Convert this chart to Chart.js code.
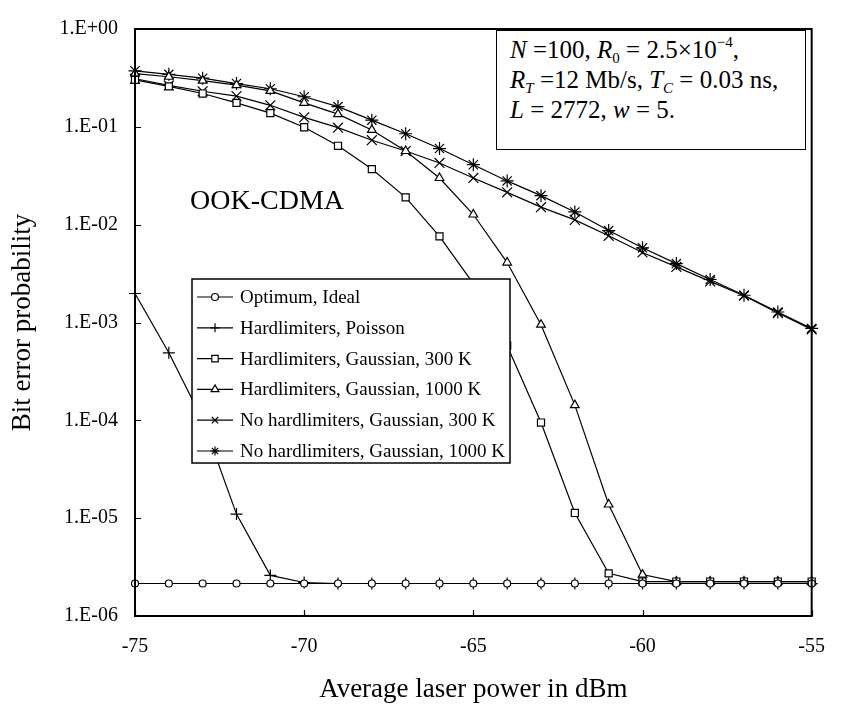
<!DOCTYPE html>
<html><head><meta charset="utf-8">
<script src="https://cdn.jsdelivr.net/npm/chart.js@4.4.0/dist/chart.umd.min.js"></script>
<style>
html,body{margin:0;padding:0;background:#fff;}
#wrap{position:relative;width:844px;height:707px;overflow:hidden;}
canvas{position:absolute;left:0;top:0;}
.note{position:absolute;font-family:"Liberation Serif","Times New Roman",serif;color:#000;}
#params{left:496px;top:30px;width:310px;height:120px;border:1.5px solid #000;box-sizing:border-box;padding:4px 0 0 13px;font-size:25px;line-height:30px;white-space:nowrap;background:#fff;}
#params i{font-style:italic;}
#params sub{font-size:15px;vertical-align:-5px;line-height:0;}
#params sup{font-size:15px;vertical-align:11px;line-height:0;}
#ook{left:190px;top:184px;font-size:28px;line-height:32px;white-space:nowrap;}
</style></head>
<body>
<div id="wrap">
<canvas id="c" width="844" height="707"></canvas>
<div class="note" id="params">
<div><i>N</i> =100, <i>R</i><sub>0</sub> = 2.5×10<sup>−4</sup>,</div>
<div><i>R<sub>T</sub></i> =12 Mb/s, <i>T<sub>C</sub></i> = 0.03 ns,</div>
<div><i>L</i> = 2772, <i>w</i> = 5.</div>
</div>
<div class="note" id="ook">OOK-CDMA</div>
</div>
<script>
// ---- data ----
const powerDbm = [-75,-74,-73,-72,-71,-70,-69,-68,-67,-66,-65,-64,-63,-62,-61,-60,-59,-58,-57,-56,-55];
const optimumIdeal = [2.15e-6,2.15e-6,2.15e-6,2.15e-6,2.15e-6,2.15e-6,2.15e-6,2.15e-6,2.15e-6,2.15e-6,2.15e-6,2.15e-6,2.15e-6,2.15e-6,2.15e-6,2.15e-6,2.15e-6,2.15e-6,2.15e-6,2.15e-6,2.15e-6];
const hlPoisson = [1.98e-3,4.9e-4,1.0e-4,1.1e-5,2.6e-6,2.2e-6,2.15e-6,2.15e-6,2.15e-6,2.15e-6,2.15e-6,2.15e-6,2.15e-6,2.15e-6,2.15e-6,2.15e-6,2.15e-6,2.15e-6,2.15e-6,2.15e-6,2.15e-6];
const hlGauss300 = [0.302,0.259,0.219,0.176,0.138,0.099,0.064,0.037,0.019,0.0076,0.0025,5.8e-4,9.5e-5,1.13e-5,2.73e-6,2.25e-6,2.25e-6,2.25e-6,2.25e-6,2.25e-6,2.25e-6];
const hlGauss1000 = [0.35,0.325,0.297,0.267,0.233,0.176,0.135,0.093,0.0566,0.030,0.0127,0.0041,9.5e-4,1.43e-4,1.38e-5,2.65e-6,2.25e-6,2.25e-6,2.25e-6,2.25e-6,2.25e-6];
const noHlGauss300 = [0.31,0.265,0.231,0.206,0.166,0.125,0.098,0.073,0.0566,0.0427,0.030,0.0214,0.0151,0.0112,0.0077,0.0052,0.0037,0.00263,0.00188,0.00125,8.5e-4];
const noHlGauss1000 = [0.374,0.344,0.314,0.277,0.245,0.203,0.161,0.117,0.085,0.060,0.041,0.028,0.0198,0.0135,0.0087,0.0058,0.0040,0.00275,0.0019,0.00128,8.7e-4];
const seriesNames = ['Optimum, Ideal','Hardlimiters, Poisson','Hardlimiters, Gaussian, 300 K','Hardlimiters, Gaussian, 1000 K','No hardlimiters, Gaussian, 300 K','No hardlimiters, Gaussian, 1000 K'];
const xTickValues = [-75,-70,-65,-60,-55];
const yTickValues = [1e-6,1e-5,1e-4,1e-3,1e-2,1e-1,1];
const yTickLabels = ['1.E-06','1.E-05','1.E-04','1.E-03','1.E-02','1.E-01','1.E+00'];

const FONT = '"Liberation Serif","Times New Roman",serif';
const seriesValues = [optimumIdeal,hlPoisson,hlGauss300,hlGauss1000,noHlGauss300,noHlGauss1000];
const styles = [
  {pointStyle:'circle', pointRadius:3.5},
  {pointStyle:'cross', pointRadius:6},
  {pointStyle:'rect', pointRadius:5},
  {pointStyle:'triangle', pointRadius:5},
  {pointStyle:'crossRot', pointRadius:7},
  {pointStyle:'star', pointRadius:6.5}
];
const datasets = seriesValues.map((vals,i)=>({
  label: seriesNames[i],
  data: powerDbm.map((x,j)=>({x:x,y:vals[j]})),
  borderColor:'#000', borderWidth:1.2,
  pointStyle: styles[i].pointStyle, pointRadius: styles[i].pointRadius,
  pointBorderColor:'#000', pointBackgroundColor:'#fff', pointBorderWidth:1.2,
  fill:false, tension:0, clip:false
}));

const framePlugin = {
  id:'frame',
  afterDraw(chart){
    const {ctx, chartArea:a, scales:{x,y}} = chart;
    ctx.save();
    ctx.strokeStyle='#000'; ctx.lineWidth=2;
    ctx.strokeRect(a.left, a.top, a.right-a.left, a.bottom-a.top);
    ctx.lineWidth=1.2;
    ctx.beginPath();
    yTickValues.forEach(v=>{ const py=Math.round(y.getPixelForValue(v))+0.5; ctx.moveTo(a.left,py); ctx.lineTo(a.left+6,py); });
    xTickValues.forEach(v=>{ const px=Math.round(x.getPixelForValue(v))+0.5; ctx.moveTo(px,a.bottom); ctx.lineTo(px,a.bottom-6); });
    ctx.stroke();
    // legend
    const L=192, T=279, W=318, H=184;
    ctx.fillStyle='#fff'; ctx.fillRect(L,T,W,H);
    ctx.lineWidth=1.5; ctx.strokeStyle='#000'; ctx.strokeRect(L,T,W,H);
    ctx.font='19px '+FONT; ctx.textBaseline='middle'; ctx.textAlign='left';
    chart.data.datasets.forEach((ds,i)=>{
      const ry = T+18+i*30.8;
      ctx.strokeStyle='#000'; ctx.lineWidth=1.2;
      ctx.beginPath(); ctx.moveTo(L+5,ry); ctx.lineTo(L+41,ry); ctx.stroke();
      ctx.fillStyle='#fff';
      Chart.helpers.drawPoint(ctx,{pointStyle:ds.pointStyle,radius:Math.min(ds.pointRadius,4.5),rotation:0,borderWidth:1.2},L+23,ry);
      ctx.fillStyle='#000';
      ctx.fillText(ds.label, L+48, ry+1);
    });
    ctx.restore();
  }
};

new Chart(document.getElementById('c'),{
  type:'line',
  data:{datasets},
  plugins:[framePlugin],
  options:{
    responsive:false, animation:false, devicePixelRatio:1,
    layout:{padding:{left:0,right:16,top:18,bottom:0}},
    plugins:{legend:{display:false}, tooltip:{enabled:false}},
    scales:{
      x:{type:'linear', min:-75, max:-55,
        afterBuildTicks:s=>{ s.ticks = xTickValues.map(v=>({value:v})); },
        ticks:{font:{family:FONT,size:20}, color:'#000', padding:19, maxRotation:0},
        grid:{display:false, drawTicks:false}, border:{display:false},
        title:{display:true, text:'Average laser power in dBm', font:{family:FONT,size:27}, color:'#000', padding:{top:0,bottom:1}},
        afterFit:s=>{ s.height = 91; }
      },
      y:{type:'logarithmic', min:1e-6, max:1,
        afterBuildTicks:s=>{ s.ticks = yTickValues.map(v=>({value:v})); },
        ticks:{font:{family:FONT,size:20}, color:'#000', padding:17, callback:(v,i)=>yTickLabels[i]},
        grid:{display:false, drawTicks:false}, border:{display:false},
        title:{display:true, text:'Bit error probability', font:{family:FONT,size:27}, color:'#000', padding:{top:7,bottom:0}},
        afterFit:s=>{ s.width = 135; }
      }
    }
  }
});
</script>
</body></html>
